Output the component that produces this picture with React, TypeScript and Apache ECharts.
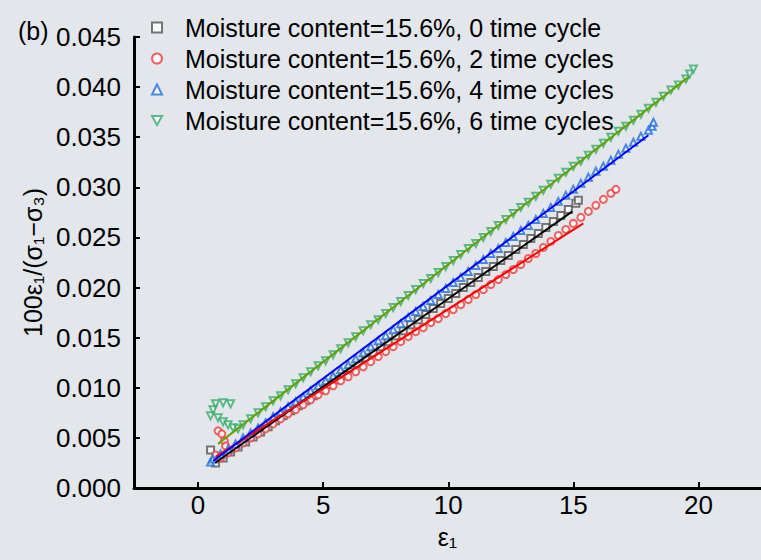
import React, { useEffect, useRef } from "react";
import * as echarts from "echarts";

const seriesNames = [
  "Moisture content=15.6%, 0 time cycle",
  "Moisture content=15.6%, 2 time cycles",
  "Moisture content=15.6%, 4 time cycles",
  "Moisture content=15.6%, 6 time cycles",
];
const xTicks = [0, 5, 10, 15, 20];

const cycle0Points: number[][] = [
  [0.5, 0.0038], [0.7, 0.0025], [1.0, 0.003], [1.3, 0.0036], [1.6, 0.0041], [1.9, 0.0046],
  [2.2, 0.0051], [2.5, 0.0056], [2.8, 0.0061], [3.1, 0.0067], [3.4, 0.0072], [3.7, 0.0077],
  [4.0, 0.0082], [4.3, 0.0087], [4.6, 0.0092], [4.9, 0.0098], [5.2, 0.0103], [5.5, 0.0108],
  [5.8, 0.0113], [6.1, 0.0119], [6.4, 0.0124], [6.7, 0.013], [7.0, 0.0135], [7.3, 0.0141],
  [7.6, 0.0146], [7.9, 0.0152], [8.2, 0.0157], [8.5, 0.0163], [8.8, 0.0168], [9.1, 0.0173],
  [9.4, 0.0179], [9.7, 0.0184], [10.0, 0.0189], [10.3, 0.0194], [10.6, 0.02], [10.9, 0.0205],
  [11.2, 0.021], [11.5, 0.0216], [11.8, 0.0221], [12.1, 0.0227], [12.4, 0.0232], [12.7, 0.0238],
  [13.0, 0.0243], [13.3, 0.0249], [13.6, 0.0254], [13.9, 0.026], [14.2, 0.0266], [14.5, 0.0272],
  [14.8, 0.0278], [15.1, 0.0284], [15.2, 0.0287],
];
const cycle2Points: number[][] = [
  [0.8, 0.0057], [0.95, 0.0054], [1.05, 0.0047], [1.1, 0.0042], [0.7, 0.0033],
  [0.9, 0.003], [1.2, 0.0035], [1.5, 0.004], [1.8, 0.0045], [2.1, 0.005], [2.4, 0.0054],
  [2.7, 0.0059], [3.0, 0.0064], [3.3, 0.0069], [3.6, 0.0074], [3.9, 0.0078], [4.2, 0.0083],
  [4.5, 0.0088], [4.8, 0.0093], [5.1, 0.0097], [5.4, 0.0102], [5.7, 0.0107], [6.0, 0.0111],
  [6.3, 0.0116], [6.6, 0.0121], [6.9, 0.0126], [7.2, 0.0131], [7.5, 0.0136], [7.8, 0.0141],
  [8.1, 0.0146], [8.4, 0.0151], [8.7, 0.0156], [9.0, 0.016], [9.3, 0.0165], [9.6, 0.0169],
  [9.9, 0.0174], [10.2, 0.0178], [10.5, 0.0183], [10.8, 0.0188], [11.1, 0.0193], [11.4, 0.0198],
  [11.7, 0.0203], [12.0, 0.0208], [12.3, 0.0213], [12.6, 0.0218], [12.9, 0.0223], [13.2, 0.0229],
  [13.5, 0.0234], [13.8, 0.024], [14.1, 0.0246], [14.4, 0.0252], [14.7, 0.0258], [15.0, 0.0264],
  [15.3, 0.027], [15.6, 0.0276], [15.9, 0.0282], [16.2, 0.0288], [16.5, 0.0294], [16.7, 0.0298],
];
const cycle4Points: number[][] = [
  [0.5, 0.0026], [0.6, 0.0029], [0.9, 0.0034], [1.2, 0.0039], [1.5, 0.0044], [1.8, 0.005],
  [2.1, 0.0055], [2.4, 0.006], [2.7, 0.0065], [3.0, 0.0071], [3.3, 0.0076], [3.6, 0.0081],
  [3.9, 0.0086], [4.2, 0.0091], [4.5, 0.0097], [4.8, 0.0102], [5.1, 0.0107], [5.4, 0.0112],
  [5.7, 0.0118], [6.0, 0.0123], [6.3, 0.0129], [6.6, 0.0135], [6.9, 0.0141], [7.2, 0.0147],
  [7.5, 0.0152], [7.8, 0.0158], [8.1, 0.0164], [8.4, 0.017], [8.7, 0.0176], [9.0, 0.0181],
  [9.3, 0.0187], [9.6, 0.0193], [9.9, 0.0199], [10.2, 0.0205], [10.5, 0.021], [10.8, 0.0216],
  [11.1, 0.0222], [11.4, 0.0228], [11.7, 0.0234], [12.0, 0.0239], [12.3, 0.0245], [12.6, 0.0251],
  [12.9, 0.0257], [13.2, 0.0262], [13.5, 0.0268], [13.8, 0.0274], [14.1, 0.028], [14.4, 0.0286],
  [14.7, 0.0292], [15.0, 0.0298], [15.3, 0.0304], [15.6, 0.031], [15.9, 0.0316], [16.2, 0.0321],
  [16.5, 0.0327], [16.8, 0.0333], [17.1, 0.0339], [17.4, 0.0345], [17.7, 0.0351], [18.0, 0.0357],
  [18.15, 0.0361], [18.2, 0.0365],
];
const cycle6Points: number[][] = [
  [0.5, 0.0072], [0.6, 0.0078], [0.7, 0.0084], [1.0, 0.0085], [1.3, 0.0084], [0.8, 0.007],
  [1.0, 0.0066], [1.2, 0.0063], [1.4, 0.006], [1.6, 0.0059],
  [1.8, 0.0063], [2.1, 0.0069], [2.4, 0.0075], [2.7, 0.0081], [3.0, 0.0087], [3.3, 0.0092],
  [3.6, 0.0098], [3.9, 0.0104], [4.2, 0.011], [4.5, 0.0116], [4.8, 0.0122], [5.1, 0.0127],
  [5.4, 0.0133], [5.7, 0.0139], [6.0, 0.0145], [6.3, 0.0151], [6.6, 0.0157], [6.9, 0.0163],
  [7.2, 0.0168], [7.5, 0.0174], [7.8, 0.018], [8.1, 0.0186], [8.4, 0.0192], [8.7, 0.0198],
  [9.0, 0.0204], [9.3, 0.0209], [9.6, 0.0215], [9.9, 0.0221], [10.2, 0.0227], [10.5, 0.0233],
  [10.8, 0.0239], [11.1, 0.0244], [11.4, 0.025], [11.7, 0.0256], [12.0, 0.0262], [12.3, 0.0268],
  [12.6, 0.0274], [12.9, 0.028], [13.2, 0.0285], [13.5, 0.0291], [13.8, 0.0297], [14.1, 0.0303],
  [14.4, 0.0309], [14.7, 0.0315], [15.0, 0.0321], [15.3, 0.0326], [15.6, 0.0332], [15.9, 0.0338],
  [16.2, 0.0344], [16.5, 0.035], [16.8, 0.0356], [17.1, 0.0361], [17.4, 0.0367], [17.7, 0.0373],
  [18.0, 0.0379], [18.3, 0.0385], [18.6, 0.0391], [18.9, 0.0397], [19.2, 0.0402], [19.5, 0.0408],
  [19.65, 0.0413], [19.8, 0.0418],
];

const cycle0Fit: number[][] = [[0.68, 0.0025], [14.96, 0.0276]];
const cycle2Fit: number[][] = [[0.7, 0.0031], [15.4, 0.0264]];
const cycle4Fit: number[][] = [[0.6, 0.0027], [18.0, 0.0352]];
const cycle6Fit: number[][] = [[0.8, 0.0044], [19.6, 0.041]];

const FONT = "'Liberation Sans', Arial, sans-serif";

export default function App() {
  const ref = useRef<HTMLDivElement>(null);
  useEffect(() => {
    if (!ref.current) return;
    const chart = echarts.init(ref.current, undefined, { renderer: "svg" });
    const markerColors = ["#555555", "#f03c3c", "#1f6fe0", "#34ab6a"];
    const lineColors = ["#000000", "#ff0000", "#0000ff", "#66a000"];
    const symbols = ["rect", "circle", "triangle", "path://M0,0L10,0L5,9Z"];
    const points = [cycle0Points, cycle2Points, cycle4Points, cycle6Points];
    const fits = [cycle0Fit, cycle2Fit, cycle4Fit, cycle6Fit];
    const scatterSeries = seriesNames.map((name, i) => ({
      name,
      type: "scatter",
      data: points[i],
      symbol: symbols[i],
      symbolSize: 7,
      itemStyle: { color: "#ffffff", borderColor: markerColors[i], borderWidth: 2 },
      z: 2,
    }));
    const lineSeries = fits.map((d, i) => ({
      name: "fit" + i,
      type: "line",
      data: d,
      showSymbol: false,
      symbol: "none",
      lineStyle: { color: lineColors[i], width: 2 },
      z: 3,
    }));
    chart.setOption({
      animation: false,
      backgroundColor: "#e3e6ea",
      grid: { left: 134, right: 0, top: 37, bottom: 72, containLabel: false },
      legend: {
        data: seriesNames,
        orient: "vertical",
        left: 146,
        top: 10,
        itemWidth: 10,
        itemHeight: 10,
        itemGap: 6,
        textStyle: {
          fontFamily: FONT,
          fontSize: 25,
          lineHeight: 25,
          color: "#000",
          padding: [0, 0, 0, 18],
        },
      },
      graphic: [
        {
          type: "text",
          left: 18,
          top: 18,
          style: { text: "(b)", font: `25px ${FONT}`, fill: "#000" },
        },
      ],
      xAxis: {
        type: "value",
        min: -2.56,
        max: 22.5,
        name: "ε₁",
        nameLocation: "middle",
        nameGap: 36,
        nameTextStyle: { fontFamily: FONT, fontSize: 25, color: "#000" },
        axisLine: { onZero: false, lineStyle: { color: "#000", width: 3 } },
        axisTick: { inside: true, length: 6, customValues: xTicks, lineStyle: { color: "#000", width: 2 } },
        axisLabel: {
          customValues: xTicks,
          margin: 4,
          fontFamily: FONT,
          fontSize: 26,
          color: "#000",
        },
        splitLine: { show: false },
      },
      yAxis: {
        type: "value",
        min: 0,
        max: 0.045,
        interval: 0.005,
        name: "100ε₁/(σ₁−σ₃)",
        nameLocation: "middle",
        nameGap: 88,
        nameTextStyle: { fontFamily: FONT, fontSize: 25, color: "#000" },
        axisLine: { show: true, onZero: false, lineStyle: { color: "#000", width: 3 } },
        axisTick: { show: true, inside: true, length: 6, lineStyle: { color: "#000", width: 2 } },
        axisLabel: {
          margin: 13,
          fontFamily: FONT,
          fontSize: 26,
          color: "#000",
          padding: [0, 0, 10, 0],
          formatter: (v: number) => v.toFixed(3),
        },
        splitLine: { show: false },
      },
      series: [...scatterSeries, ...lineSeries],
    });
    return () => chart.dispose();
  }, []);
  return (
    <div
      ref={ref}
      style={{ position: "absolute", left: 0, top: 0, width: 761, height: 560 }}
    />
  );
}
